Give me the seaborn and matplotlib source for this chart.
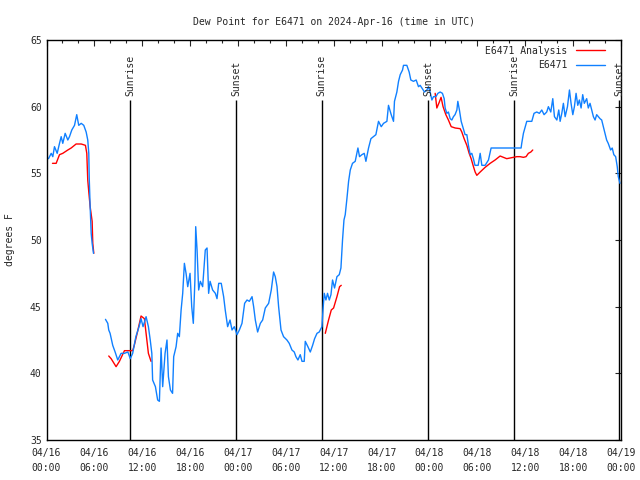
import matplotlib
matplotlib.use("Agg")
import matplotlib.pyplot as plt
import numpy as np
import pandas as pd
import seaborn as sns

# hours since 04/16 00:00 UTC, dew point in F
obs_h1 = [0.25, 0.59, 0.79, 1.0, 1.34, 1.63, 1.84, 2.04, 2.34, 2.67, 2.88, 3.17, 3.51, 3.79,
          4.04, 4.35, 4.67, 4.97, 5.17, 5.3, 5.35, 5.47, 5.6, 5.72, 5.89]
obs_v1 = [56.1, 56.5, 56.25, 57.0, 56.5, 57.25, 57.75, 57.25, 58.0, 57.5, 57.75, 58.25, 58.6, 59.4,
          58.6, 58.75, 58.6, 58.1, 57.5, 56.5, 54.75, 52.5, 50.5, 49.75, 49.0]

obs_h2 = [7.39, 7.68, 7.8, 7.97, 8.3, 8.6, 8.93, 9.35, 9.77, 10.2, 10.5, 10.8, 11.2, 11.6, 11.85,
          12.1, 12.48, 12.77, 13.0, 13.2, 13.3, 13.65, 13.93, 14.15, 14.36, 14.56, 14.86, 15.1,
          15.28, 15.53, 15.8, 15.94, 16.24, 16.44, 16.65, 16.87, 17.07, 17.28, 17.49, 17.7,
          17.99, 18.2, 18.4, 18.6, 18.7, 18.87, 19.07, 19.28, 19.57, 19.9, 20.12, 20.32, 20.5,
          20.82, 21.16, 21.37, 21.58, 21.9, 22.2, 22.4, 22.7, 23.0, 23.25, 23.54, 23.88, 24.17,
          24.5, 24.83, 25.13, 25.42, 25.76, 25.96, 26.17, 26.46, 26.8, 27.09, 27.42, 27.84,
          28.17, 28.46, 28.67, 28.89, 29.09, 29.39, 29.71, 30.13, 30.42, 30.76, 31.05, 31.26,
          31.51, 31.8, 32.02, 32.3, 32.43, 32.76, 33.06, 33.35, 33.6, 33.9, 34.18, 34.52, 34.65,
          34.81, 35.02, 35.22, 35.44, 35.65, 35.85, 36.1, 36.4, 36.69, 36.9, 37.1, 37.28, 37.44,
          37.65, 37.86, 38.07, 38.35, 38.69, 39.03, 39.23, 39.53, 39.82, 40.03, 40.36, 40.66,
          40.98, 41.28, 41.61, 41.95, 42.24, 42.66, 42.86, 43.2, 43.49, 43.61, 43.91, 44.12,
          44.33, 44.62, 44.74, 45.16, 45.45, 45.66, 45.99, 46.33, 46.62, 46.83, 47.04, 47.37,
          47.67, 47.87, 48.08, 48.3, 48.5, 48.8, 49.05, 49.34, 49.62, 49.84, 49.96, 50.17,
          50.37, 50.59, 50.8, 51.0, 51.2, 51.43, 51.55, 51.75, 51.97, 52.17, 52.46, 52.68,
          52.88, 53.1, 53.3, 53.5, 53.7, 54.1, 54.35, 54.56, 54.75, 54.97, 55.39, 55.72, 59.48,
          59.56, 59.77, 60.19, 60.82, 61.1, 61.44, 61.77, 62.07, 62.36, 62.69, 62.9, 63.2,
          63.45, 63.66, 63.96, 64.2, 64.37, 64.58, 64.78, 65.0, 65.29, 65.54, 65.74, 65.96,
          66.16, 66.37, 66.58, 66.78, 67.0, 67.2, 67.4, 67.7, 67.9, 68.12, 68.33, 68.54, 68.75,
          68.95, 69.16, 69.37, 69.58, 69.79, 70.0, 70.2, 70.4, 70.7, 70.9, 71.1, 71.33, 71.53,
          71.66, 71.87]
obs_v2 = [44.05, 43.75, 43.25, 43.0, 42.1, 41.6, 41.0, 41.5, 41.5, 41.6, 41.1, 41.5, 42.75, 43.5,
          44.1, 43.5, 44.25, 43.5, 42.5, 41.5, 39.5, 39.0, 38.0, 37.9, 41.9, 39.0, 41.5, 42.5,
          39.75, 38.75, 38.5, 41.25, 42.0, 43.0, 42.75, 44.75, 46.0, 48.25, 47.5, 46.5, 47.5,
          45.0, 43.75, 47.0, 51.0, 49.25, 46.25, 46.9, 46.5, 49.25, 49.4, 46.0, 46.9, 46.25,
          46.0, 45.6, 46.75, 46.75, 45.75, 44.75, 43.5, 44.0, 43.25, 43.5, 42.9, 43.25, 43.75,
          45.25, 45.5, 45.4, 45.75, 45.0, 44.0, 43.1, 43.75, 44.0, 44.9, 45.25, 46.25, 47.6,
          47.25, 46.5, 45.0, 43.25, 42.75, 42.5, 42.25, 41.75, 41.6, 41.25, 41.0, 41.4, 40.9,
          40.9, 42.4, 42.0, 41.6, 42.1, 42.6, 43.0, 43.1, 43.5, 44.75, 46.0, 45.5, 46.0, 45.5,
          45.9, 47.0, 46.4, 47.25, 47.4, 47.9, 50.0, 51.5, 51.9, 53.1, 54.4, 55.25, 55.75,
          55.9, 56.9, 56.25, 56.4, 56.5, 55.9, 56.9, 57.6, 57.75, 57.9, 58.9, 58.5, 58.75,
          58.9, 60.1, 59.4, 58.9, 60.4, 61.1, 61.9, 62.4, 62.75, 63.1, 63.1, 62.6, 62.0, 61.9,
          62.0, 61.5, 61.6, 61.4, 61.1, 61.25, 61.5, 61.1, 60.5, 60.75, 60.75, 61.0, 61.1,
          61.0, 60.6, 59.9, 59.5, 59.6, 59.1, 59.0, 59.25, 59.4, 59.75, 60.4, 59.75, 58.9,
          58.5, 57.9, 57.9, 57.1, 56.4, 56.5, 56.1, 55.6, 55.6, 56.5, 55.6, 55.6, 55.6, 56.0,
          56.9, 56.9, 57.25, 58.0, 58.9, 58.9, 59.5, 59.6, 59.5, 59.75, 59.4, 59.6, 60.0, 59.6,
          60.6, 59.25, 59.0, 59.75, 58.9, 59.5, 60.25, 59.25, 60.0, 61.25, 60.25, 59.4, 60.0,
          61.0, 60.1, 60.5, 59.9, 60.9, 60.25, 60.6, 59.9, 60.25, 59.75, 59.25, 59.0, 59.4,
          59.25, 59.1, 59.0, 58.5, 58.0, 57.5, 57.25, 56.75, 56.9, 56.4, 56.25, 55.5, 54.75,
          54.25]

ana_h1 = [0.75, 1.21, 1.63, 2.04, 2.67, 3.09, 3.71, 4.35, 4.88, 5.05, 5.17, 5.3, 5.47, 5.72, 5.8, 5.93]
ana_v1 = [55.75, 55.75, 56.4, 56.5, 56.75, 56.9, 57.2, 57.2, 57.1, 56.5, 54.5, 53.6, 52.5, 51.4, 49.75, 49.0]
ana_h2 = [7.8, 8.1, 8.72, 9.14, 9.77, 10.4, 10.8, 11.0, 11.4, 11.85, 12.27, 12.48, 12.77, 13.1]
ana_v2 = [41.3, 41.1, 40.5, 40.9, 41.7, 41.7, 41.7, 42.1, 43.1, 44.3, 44.1, 43.0, 41.5, 40.9]
ana_h3 = [34.94, 35.35, 35.69, 35.98, 36.4, 36.73, 36.94]
ana_v3 = [43.0, 44.0, 44.75, 44.9, 45.75, 46.5, 46.6]
ana_h4 = [48.71, 48.92, 49.2, 49.45, 49.7, 50.05, 50.37, 50.72, 51.22, 51.84, 52.05, 52.34, 52.68,
          52.97, 53.22, 53.51, 53.72, 53.93, 54.35, 54.97, 55.6, 56.22, 56.85, 57.26, 57.68, 58.1,
          58.51, 58.94, 59.35, 59.77, 60.1, 60.39, 60.7, 60.94]
ana_v4 = [61.0, 59.9, 60.3, 60.7, 60.0, 59.4, 59.0, 58.5, 58.4, 58.35, 58.1, 57.6, 57.1,
          56.5, 56.1, 55.5, 55.1, 54.85, 55.1, 55.45, 55.75, 56.0, 56.3, 56.2, 56.1, 56.15,
          56.2, 56.25, 56.25, 56.2, 56.25, 56.5, 56.6, 56.75]

event_names = ["Sunrise", "Sunset", "Sunrise", "Sunset", "Sunrise", "Sunset"]
event_hours = [10.5, 23.8, 34.5, 47.8, 58.6, 71.8]

xtick_hours = [0, 6, 12, 18, 24, 30, 36, 42, 48, 54, 60, 66, 72]
xtick_labels = ["04/16\n00:00", "04/16\n06:00", "04/16\n12:00", "04/16\n18:00",
                "04/17\n00:00", "04/17\n06:00", "04/17\n12:00", "04/17\n18:00",
                "04/18\n00:00", "04/18\n06:00", "04/18\n12:00", "04/18\n18:00",
                "04/19\n00:00"]

# build long table, one unit per unbroken segment
parts = []
segs = [("E6471 Analysis", ana_h1, ana_v1), ("E6471 Analysis", ana_h2, ana_v2),
        ("E6471 Analysis", ana_h3, ana_v3), ("E6471 Analysis", ana_h4, ana_v4),
        ("E6471", obs_h1, obs_v1), ("E6471", obs_h2, obs_v2)]
for i, (name, h, v) in enumerate(segs):
    parts.append(pd.DataFrame({"hour": h, "dewpt": v, "series": name, "seg": i}))
df = pd.concat(parts, ignore_index=True)

sns.set_style("white")
plt.rcParams["font.family"] = ["DejaVu Sans Mono", "DejaVu Sans"]
plt.rcParams["font.size"] = 7

fig = plt.figure(figsize=(6.4, 4.8), dpi=100)
ax = fig.add_axes([46.5 / 640, 40 / 480, 574.5 / 640, 400 / 480])

sns.lineplot(data=df, x="hour", y="dewpt", hue="series", units="seg", estimator=None,
             sort=False, hue_order=["E6471 Analysis", "E6471"],
             palette={"E6471 Analysis": "#ff0000", "E6471": "#1080ff"},
             linewidth=1, ax=ax)

for name, h in zip(event_names, event_hours):
    ax.vlines(h, 35, 60.5, color="black", linewidth=1, zorder=1)
    ax.text(h, 60.8, name, rotation=90, ha="center", va="bottom", fontsize=7)

ax.set_xlim(0, 72)
ax.set_ylim(35, 65)
ax.set_xticks(xtick_hours)
ax.set_xticklabels(xtick_labels, linespacing=1.6)
ax.set_xticks(np.arange(0, 73, 2), minor=True)
ax.set_yticks([35, 40, 45, 50, 55, 60, 65])
ax.tick_params(which="both", direction="in", top=True, right=True, labelsize=7)
ax.tick_params(axis="x", which="major", pad=6)
ax.tick_params(which="major", length=4.5, width=0.8)
ax.tick_params(which="minor", length=2.5, width=0.8)
for s in ax.spines.values():
    s.set_linewidth(1)
    s.set_color("black")

ax.set_xlabel("")
ax.set_ylabel("degrees F", fontsize=7)
ax.yaxis.set_label_coords(-(46.5 - 15) / 574.5, 0.5)
ax.set_title("Dew Point for E6471 on 2024-Apr-16 (time in UTC)", fontsize=7, pad=11)

ax.legend(loc="upper right", bbox_to_anchor=(0.983, 1.0), frameon=False, markerfirst=False,
          handlelength=3.0, handletextpad=0.9, labelspacing=0.45, fontsize=7, borderaxespad=0.2)

fig.savefig("out.png", dpi=100)
